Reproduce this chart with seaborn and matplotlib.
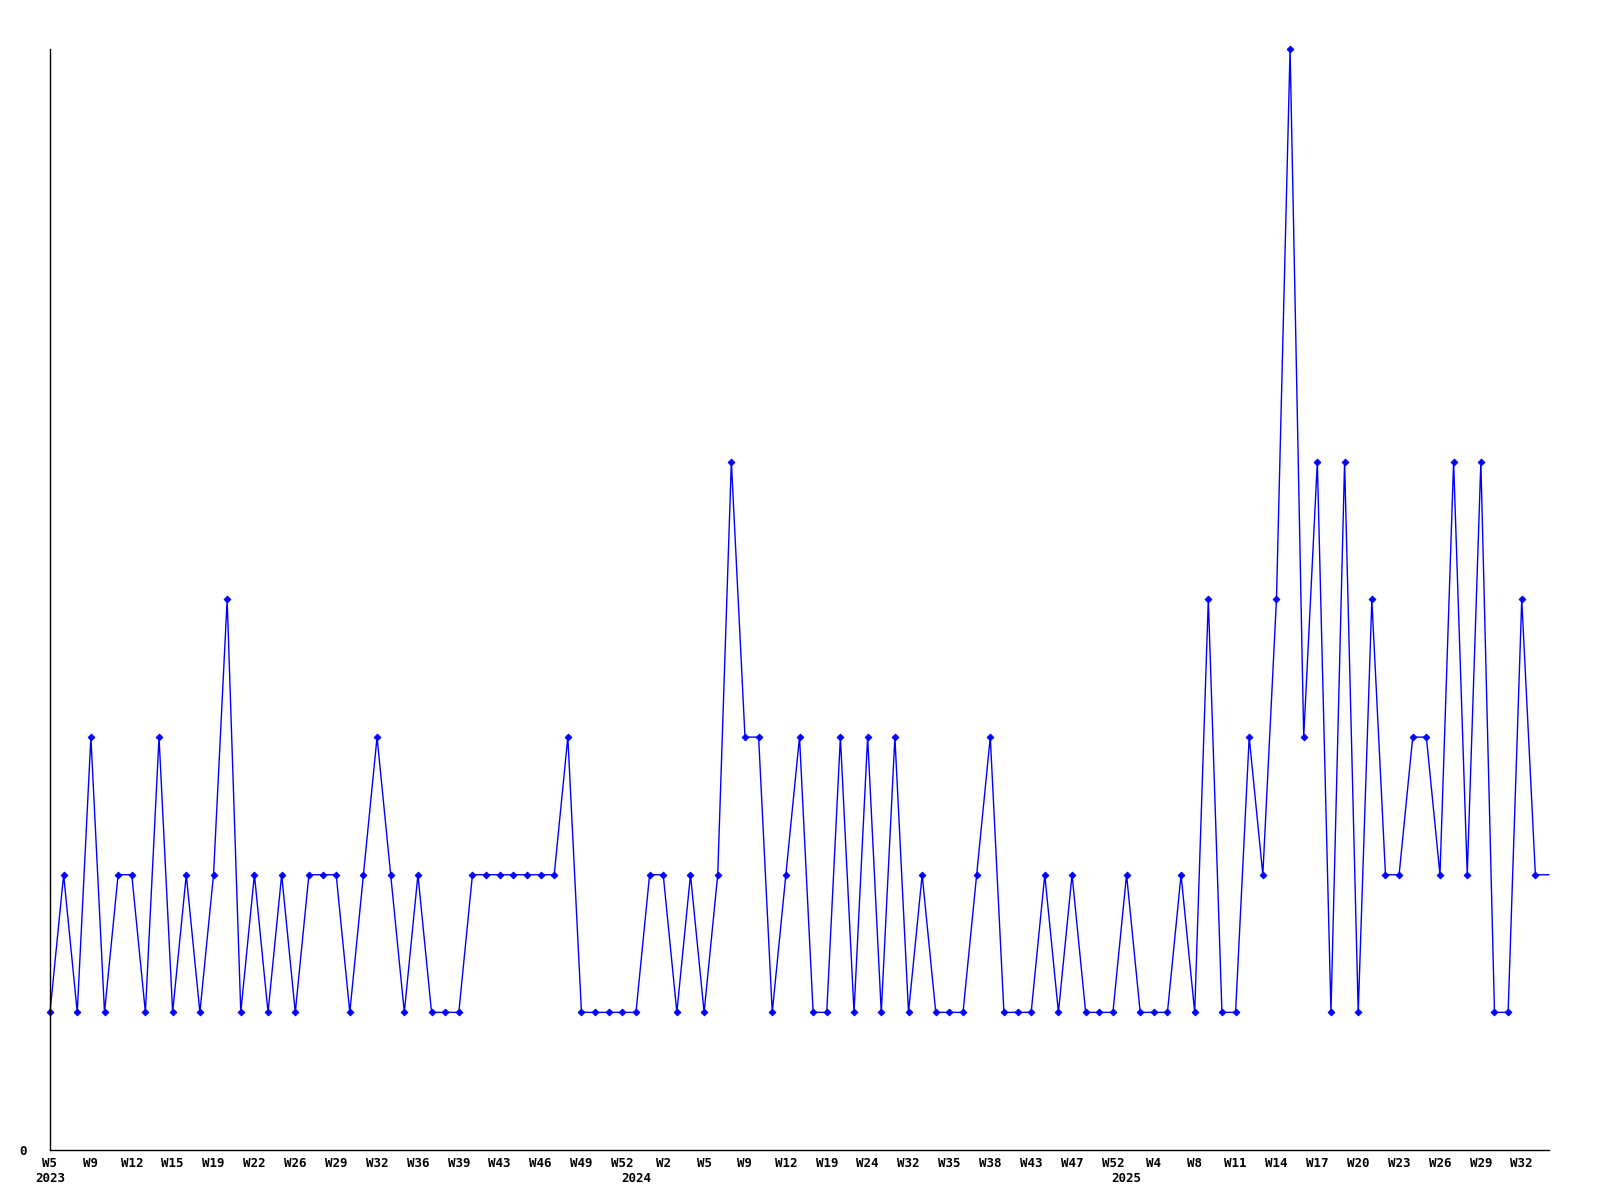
import matplotlib
matplotlib.use("Agg")
import matplotlib.pyplot as plt
import seaborn as sns
import pandas as pd

# ── DATA ───────────────────────────────────────────────────
# one value per weekly point
counts = [1, 2, 1, 3, 1, 2, 2, 1, 3, 1, 2, 1, 2, 4, 1, 2, 1, 2, 1, 2,
          2, 2, 1, 2, 3, 2, 1, 2, 1, 1, 1, 2, 2, 2, 2, 2, 2, 2, 3, 1,
          1, 1, 1, 1, 2, 2, 1, 2, 1, 2, 5, 3, 3, 1, 2, 3, 1, 1, 3, 1,
          3, 1, 3, 1, 2, 1, 1, 1, 2, 3, 1, 1, 1, 2, 1, 2, 1, 1, 1, 2,
          1, 1, 1, 2, 1, 4, 1, 1, 3, 2, 4, 8, 3, 5, 1, 5, 1, 4, 2, 2,
          3, 3, 2, 5, 2, 5, 1, 1, 4, 2, 2]

# label shown under every third point
week_labels = ["W5", "W9", "W12", "W15", "W19", "W22", "W26", "W29", "W32",
               "W36", "W39", "W43", "W46", "W49", "W52", "W2", "W5", "W9",
               "W12", "W19", "W24", "W32", "W35", "W38", "W43", "W47", "W52",
               "W4", "W8", "W11", "W14", "W17", "W20", "W23", "W26", "W29",
               "W32"]

years = ["2023", "2024", "2025"]
year_first_point = [0, 43, 79]

LINE_BLUE = "#0000FF"
TEXT_BLACK = "#000000"

# ── STYLE ──────────────────────────────────────────────────
sns.set_style("white")
plt.rcParams["font.family"] = ["DejaVu Sans Mono", "DejaVu Sans"]

df = pd.DataFrame({"point": range(len(counts)), "count": counts})

fig = plt.figure(figsize=(16, 12), dpi=100)
fig.patch.set_facecolor("white")
ax = fig.add_axes([0.03125, 0.04167, 0.936875, 0.9175])

# last point has no marker: the line just runs to the edge
sns.lineplot(
    data=df, x="point", y="count", ax=ax,
    color=LINE_BLUE, linewidth=1,
    marker="D", markersize=3.5, markeredgewidth=0.6,
    markeredgecolor=LINE_BLUE,
    markevery=list(range(len(counts) - 1)),
    clip_on=False,
)

ax.set_xlim(0, len(counts) - 1)
ax.set_ylim(0, max(counts))

# ── AXES ───────────────────────────────────────────────────
tick_pos = list(range(0, len(counts), 3))[:len(week_labels)]
ax.set_xticks(tick_pos)
ax.set_xticklabels(week_labels, fontsize=9, fontweight="bold", color=TEXT_BLACK)
ax.set_yticks([0])
ax.set_yticklabels(["0"], fontsize=9, fontweight="bold", color=TEXT_BLACK)
ax.tick_params(axis="x", length=0, pad=5)
ax.tick_params(axis="y", length=0, pad=17)
ax.set_xlabel("")
ax.set_ylabel("")

for yr, pos in zip(years, year_first_point):
    ax.annotate(yr, xy=(pos, 0), xycoords=ax.get_xaxis_transform(),
                xytext=(0, -15.5), textcoords="offset points",
                ha="center", va="top", fontsize=9, fontweight="bold",
                color=TEXT_BLACK, annotation_clip=False)

sns.despine(ax=ax)
for side in ("left", "bottom"):
    ax.spines[side].set_color(TEXT_BLACK)
    ax.spines[side].set_linewidth(1)

plt.savefig("out.png", dpi=100, facecolor="white")
